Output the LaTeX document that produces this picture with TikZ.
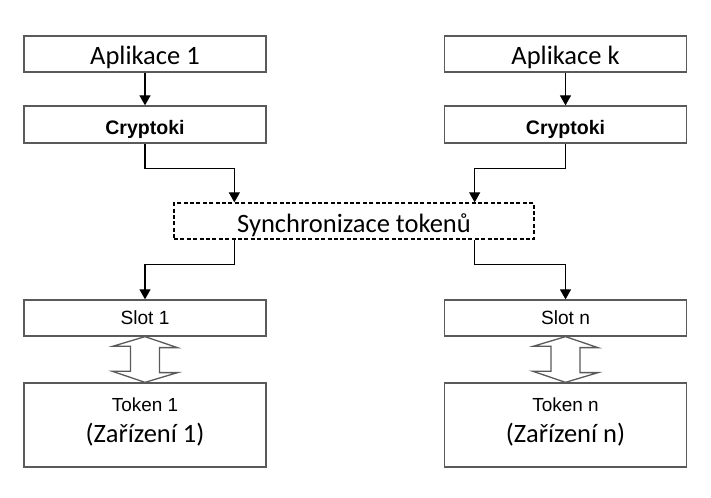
\documentclass[tikz,border=0pt]{standalone}
\usepackage{fontspec}
\setmainfont{Carlito}
\newfontfamily\arialfont{Liberation Sans}
\usetikzlibrary{arrows.meta,calc}
\definecolor{frame}{HTML}{5A5A5A}
\tikzstyle{box} = [draw=frame, line width=0.65bp, fill=white, minimum width=121bp, minimum height=18bp, inner sep=0pt]
\tikzstyle{appbox} = [box, font=\fontsize{13.3}{16}\selectfont, text height=12bp, text depth=1bp]
\tikzstyle{cryptbox} = [box, minimum height=18.5bp, font=\arialfont\bfseries\fontsize{9.8}{11}\selectfont, text height=12.5bp, text depth=2bp]
\tikzstyle{syncbox} = [box, draw=black, dash pattern=on 2bp off 1.2bp, minimum width=180bp, font=\fontsize{13.3}{16}\selectfont, text height=14bp, text depth=2bp]
\tikzstyle{slotbox} = [box, font=\arialfont\fontsize{9.6}{11}\selectfont]
\tikzstyle{tokbox} = [box, minimum height=42bp]
\tikzstyle{toktext} = [anchor=base, inner sep=0pt, font=\arialfont\fontsize{9.5}{11}\selectfont]
\tikzstyle{devtext} = [anchor=base, inner sep=0pt, font=\fontsize{13.3}{16}\selectfont]
\tikzstyle{conn} = [line width=0.65bp, -{Triangle[width=5.5bp,length=5bp]}]
\tikzstyle{dblarrow} = [draw=frame, line width=0.65bp, fill=white]

\begin{document}
\begin{tikzpicture}[x=0.5bp, y=-0.5bp]
	\useasboundingbox (0,0) rectangle (711,498);
	% left column
	\node[appbox] (app1) at (145,54) {Aplikace 1};
	\node[cryptbox] (crypt1) at (145,124.5) {Cryptoki};
	\node[slotbox] (slot1) at (145,318) {Slot 1};
	\node[tokbox] (tok1) at (145,425) {};
	\node[toktext] (tok1name) at ($(tok1.north)+(0,29)$) {Token 1};
	\node[devtext] (tok1dev) at ($(tok1.north)+(0,60)$) {(Zařízení 1)};
	% right column
	\node[appbox] (appk) at (565.5,54) {Aplikace k};
	\node[cryptbox] (cryptk) at (565.5,124.5) {Cryptoki};
	\node[slotbox] (slotn) at (565.5,318) {Slot n};
	\node[tokbox] (tokn) at (565.5,425) {};
	\node[toktext] (toknname) at ($(tokn.north)+(0,29)$) {Token n};
	\node[devtext] (tokndev) at ($(tokn.north)+(0,60)$) {(Zařízení n)};
	% middle
	\node[syncbox] (sync) at (354,221) {Synchronizace tokenů};

	\draw[conn] (app1) -- (crypt1);
	\draw[conn] (appk) -- (cryptk);
	\draw[conn] (crypt1.south) -- ++(0,25) -| ($(sync.north west)+(61,0)$);
	\draw[conn] (cryptk.south) -- ++(0,25) -| ($(sync.north east)+(-60,0)$);
	\draw[conn] ($(sync.south west)+(61,0)$) -- ++(0,25) -| (slot1.north);
	\draw[conn] ($(sync.south east)+(-60,0)$) -- ++(0,25) -| (slotn.north);

	% double arrows between slot and token
	\foreach \s/\t in {slot1/tok1, slotn/tokn}
		\draw[dblarrow] (\s.south) -- ++(32.5,11) -- ++(-18,0) -- ++(0,25)
			-- ++(18,0) -- (\t.north) -- ++(-32.5,-11) -- ++(18,0)
			-- ++(0,-25) -- ++(-18,0) -- cycle;
\end{tikzpicture}
\end{document}
